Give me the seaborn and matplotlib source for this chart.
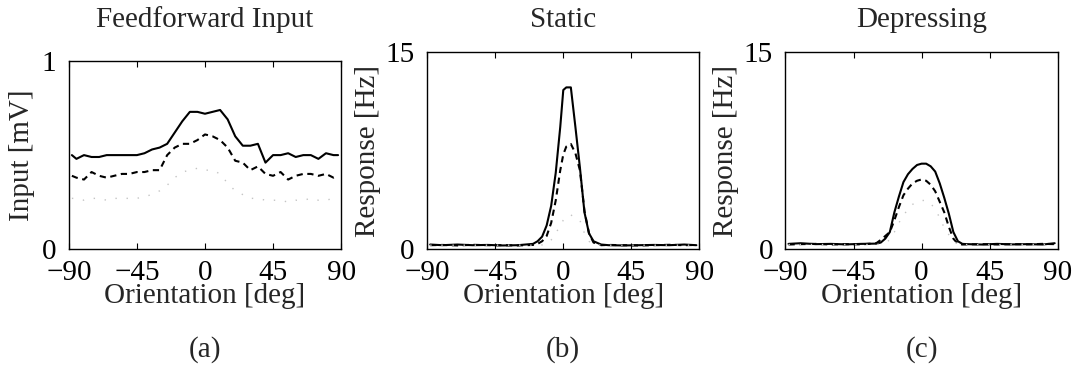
import matplotlib
matplotlib.use("Agg")
import matplotlib.pyplot as plt
import numpy as np
import pandas as pd
import seaborn as sns

# panel (a): feedforward input [mV]
ori_a = [-88, -85, -80, -75, -70, -65, -60, -55, -50, -45, -40, -35, -30, -25, -20,
         -15, -10, -5, 0, 5, 10, 15, 20, 25, 30, 35, 40, 45, 50, 55, 60, 65, 70, 75, 80, 85, 88]
input_solid = [0.50, 0.48, 0.50, 0.49, 0.49, 0.50, 0.50, 0.50, 0.50, 0.50, 0.51, 0.53, 0.54,
               0.56, 0.62, 0.68, 0.73, 0.73, 0.72, 0.73, 0.74, 0.69, 0.60, 0.55, 0.55, 0.56,
               0.46, 0.50, 0.50, 0.51, 0.49, 0.50, 0.50, 0.48, 0.51, 0.50, 0.50]
input_dashed = [0.39, 0.38, 0.37, 0.41, 0.39, 0.38, 0.39, 0.40, 0.40, 0.41, 0.41, 0.42, 0.42,
                0.50, 0.54, 0.56, 0.56, 0.58, 0.61, 0.60, 0.58, 0.54, 0.47, 0.46, 0.42, 0.44,
                0.40, 0.39, 0.41, 0.37, 0.39, 0.40, 0.40, 0.39, 0.40, 0.38, 0.39]
input_dotted = [0.27, 0.27, 0.26, 0.27, 0.27, 0.26, 0.27, 0.27, 0.27, 0.27, 0.28, 0.29, 0.31,
                0.34, 0.38, 0.41, 0.42, 0.43, 0.42, 0.42, 0.40, 0.35, 0.31, 0.29, 0.27, 0.27,
                0.26, 0.26, 0.26, 0.25, 0.26, 0.26, 0.27, 0.26, 0.26, 0.27, 0.27]

# panel (b): static synapses, response [Hz]
ori_b = [-88, -80, -70, -60, -50, -40, -30, -20, -17, -14, -11, -8, -5, -2, 0, 2, 5,
         8, 11, 14, 17, 20, 25, 30, 40, 50, 60, 70, 80, 88]
static_solid = [0.35, 0.30, 0.35, 0.30, 0.32, 0.28, 0.30, 0.40, 0.60, 0.95, 1.8, 3.3, 5.8,
                9.3, 12.1, 12.3, 12.3, 9.3, 6.2, 2.8, 1.2, 0.6, 0.35, 0.30, 0.28, 0.30,
                0.32, 0.30, 0.35, 0.30]
static_dashed = [0.30, 0.32, 0.28, 0.33, 0.30, 0.30, 0.28, 0.32, 0.40, 0.60, 1.0, 2.0, 3.7,
                 6.0, 7.2, 7.8, 8.0, 7.3, 6.0, 2.9, 1.2, 0.5, 0.30, 0.32, 0.30, 0.28,
                 0.30, 0.33, 0.30, 0.32]
static_dotted = [0.30, 0.30, 0.30, 0.30, 0.30, 0.30, 0.30, 0.30, 0.30, 0.32, 0.40, 0.70, 1.2,
                 1.8, 2.2, 2.5, 2.6, 2.4, 2.2, 1.2, 0.6, 0.35, 0.30, 0.30, 0.30, 0.30,
                 0.30, 0.30, 0.30, 0.30]

# panel (c): depressing synapses, response [Hz]
ori_c = [-88, -80, -70, -60, -50, -40, -30, -27, -24, -21, -18, -15, -12, -9, -6, -3, 0,
         3, 6, 9, 12, 15, 18, 21, 24, 27, 30, 40, 50, 60, 70, 80, 88]
depr_solid = [0.40, 0.45, 0.38, 0.40, 0.36, 0.40, 0.42, 0.50, 0.80, 1.3, 2.8, 4.0, 5.1, 5.7,
              6.1, 6.4, 6.5, 6.5, 6.3, 5.9, 5.0, 3.9, 2.7, 1.3, 0.6, 0.40, 0.38, 0.35,
              0.40, 0.36, 0.38, 0.35, 0.45]
depr_dashed = [0.35, 0.38, 0.40, 0.35, 0.38, 0.36, 0.45, 0.70, 1.0, 1.3, 2.2, 3.2, 4.1, 4.6,
               5.0, 5.2, 5.3, 5.2, 4.9, 4.4, 3.6, 2.8, 1.7, 0.8, 0.4, 0.35, 0.36, 0.38,
               0.35, 0.38, 0.36, 0.40, 0.38]
depr_dotted = [0.35, 0.35, 0.35, 0.35, 0.35, 0.35, 0.35, 0.40, 0.50, 0.70, 1.3, 2.0, 2.6, 3.0,
               3.4, 3.6, 3.7, 3.7, 3.5, 3.0, 2.4, 1.6, 1.1, 0.6, 0.4, 0.35, 0.35, 0.35,
               0.35, 0.35, 0.35, 0.35, 0.35]

sns.set_theme(style="ticks")
plt.rcParams["font.family"] = ["Liberation Serif", "DejaVu Serif"]
plt.rcParams["axes.unicode_minus"] = True
FS = 21

fig = plt.figure(figsize=(10.76, 3.68), dpi=100)
H = 368

panels = [
    dict(pos=[0.064, 0.323, 0.253, 0.511], x=ori_a, ys=(input_solid, input_dashed, input_dotted),
         ymax=1, ylabel="Input [mV]", ylab_x=22, title="Feedforward Input", cap="(a)"),
    dict(pos=[0.397, 0.323, 0.253, 0.536], x=ori_b, ys=(static_solid, static_dashed, static_dotted),
         ymax=15, ylabel="Response [Hz]", ylab_x=368, title="Static", cap="(b)"),
    dict(pos=[0.730, 0.323, 0.253, 0.536], x=ori_c, ys=(depr_solid, depr_dashed, depr_dotted),
         ymax=15, ylabel="Response [Hz]", ylab_x=726, title="Depressing", cap="(c)"),
]

styles = [
    dict(color="black", lw=1.5, ls="-"),
    dict(color="black", lw=1.5, ls=(0, (3.0, 2.2))),
    dict(color="#c4c4c4", lw=1.0, ls=(0, (1, 7))),
]

for p in panels:
    ax = fig.add_axes(p["pos"])
    for y, st in zip(p["ys"], styles):
        df = pd.DataFrame({"ori": p["x"], "val": y})
        sns.lineplot(data=df, x="ori", y="val", ax=ax, color=st["color"],
                     linewidth=st["lw"], linestyle=st["ls"])
    ax.set_xlim(-90, 90)
    ax.set_ylim(0, p["ymax"])
    ax.set_xticks([-90, -45, 0, 45, 90])
    ax.set_yticks([0, p["ymax"]])
    ax.tick_params(axis="both", direction="in", length=4, width=0.8, labelsize=FS,
                   top=True, colors="black")
    ax.tick_params(axis="x", pad=8)
    ax.tick_params(axis="y", pad=9, length=0)
    for s in ax.spines.values():
        s.set_color("black")
        s.set_linewidth(1.0)
    l, b, w, h = p["pos"]
    ax_h_px = h * H
    ax.set_xlabel("Orientation [deg]", fontsize=FS)
    ax.xaxis.set_label_coords(0.5, -(296 - (1 - b) * H) / ax_h_px)
    ax.xaxis.label.set_va("center")
    ax.set_ylabel(p["ylabel"], fontsize=FS)
    ax.yaxis.set_label_coords((p["ylab_x"] - l * 1076) / (w * 1076), 0.5)
    ax.yaxis.label.set_va("center")
    fig.text(l + w / 2, 1 - 27 / H, p["title"], ha="center", va="baseline", fontsize=FS)
    fig.text(l + w / 2, 1 - 350 / H, p["cap"], ha="center", va="center", fontsize=FS)

fig.savefig("out.png", dpi=100)
